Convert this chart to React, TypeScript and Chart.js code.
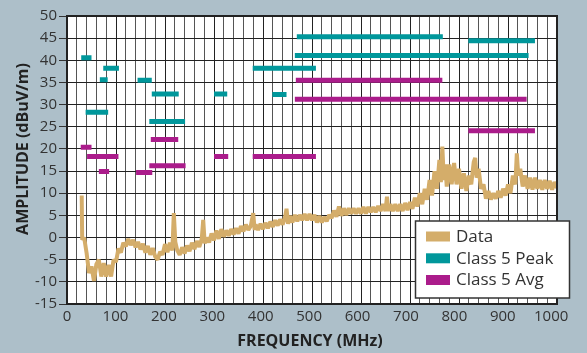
import React, { useEffect, useRef } from 'react';
import { Chart, registerables } from 'chart.js';

Chart.register(...registerables);

// ---------- data ----------
const FREQ_MHZ = [
  30, 31, 35, 40, 45, 50, 55, 60, 65, 70,
  75, 80, 85, 90, 95, 100, 105, 110, 115, 120,
  125, 130, 135, 140, 145, 150, 155, 160, 165, 170,
  175, 180, 185, 190, 195, 200, 205, 210, 215, 218,
  221, 225, 230, 235, 240, 245, 250, 255, 260, 265,
  270, 275, 278, 281, 285, 290, 295, 300, 305, 310,
  315, 320, 325, 330, 335, 340, 345, 350, 355, 360,
  365, 370, 375, 380, 383, 385, 390, 395, 400, 405,
  410, 415, 420, 425, 430, 435, 440, 445, 448, 451,
  455, 460, 465, 470, 475, 480, 485, 490, 495, 500,
  505, 510, 515, 520, 525, 530, 535, 540, 545, 550,
  555, 560, 565, 570, 575, 580, 585, 590, 595, 600,
  605, 610, 615, 620, 625, 630, 635, 640, 645, 650,
  653, 656, 660, 665, 670, 675, 680, 685, 690, 695,
  700, 705, 710, 715, 720, 725, 730, 735, 740, 745,
  750, 755, 760, 763, 766, 769, 772, 775, 780, 785,
  790, 795, 800, 805, 810, 815, 820, 825, 830, 833,
  836, 840, 845, 850, 855, 860, 865, 870, 875, 880,
  885, 890, 895, 900, 905, 910, 915, 918, 921, 925,
  930, 935, 940, 945, 950, 955, 960, 965, 970, 975,
  980, 985, 990, 995, 1000,
];

const AMPLITUDE = [
  9.5, -0.5, 0, -3.5, -8, -6.5, -9.8, -6, -5, -8.8,
  -5.8, -8.8, -6.2, -8.8, -5, -5.5, -2.5, -3.4, -1.2, -2,
  -0.3, -1.7, -0.5, -2.2, -1, -2.7, -1.4, -3.4, -1.9, -3.9,
  -2.4, -4.3, -5, -3.2, -3.9, -1.5, -3.3, -1.2, -2.9, 5.5,
  -1, -2.9, -3.9, -2.2, -3.6, -1.8, -3.1, -1.2, -2.6, -0.8,
  -2.1, -0.3, 4, -1.3, 0, -1.1, 0.9, -0.6, 1.6, -0.3,
  1.9, 0.2, 1.6, 0.4, 1.9, 0.7, 2.1, 0.9, 2.6, 1.4,
  2.9, 1.7, 2.6, 5.5, 1.7, 2.9, 1.7, 3.1, 1.9, 3.3,
  2.1, 3.6, 2.4, 3.9, 2.7, 4.1, 2.9, 4.6, 6.5, 3.1,
  4.9, 3.4, 5.1, 3.7, 5.1, 3.9, 5.3, 3.9, 5.3, 3.9,
  5.1, 3.4, 4.9, 3.4, 4.6, 3.7, 5.1, 4.4, 6.1, 4.7,
  7, 4.9, 6.6, 5.1, 6.6, 5.4, 6.6, 5.4, 6.6, 5.4,
  6.9, 5.4, 6.9, 5.7, 6.9, 5.7, 7.1, 6, 7.5, 6,
  9.2, 6, 7.5, 6, 7.5, 6, 7.5, 6, 7.8, 6.2,
  8, 6.5, 9, 7, 10, 7.5, 11, 8.5, 13, 9.5,
  15, 11, 17.5, 12.5, 20.5, 13, 16.5, 11.5, 16.5, 12,
  16.8, 12, 15.5, 11, 14.5, 10.5, 14, 12, 17, 18,
  13.5, 15.5, 11, 12, 8.8, 10.5, 8.6, 10, 8.8, 10.5,
  9, 11, 9.5, 12, 10, 14, 12, 19, 14, 15.5,
  11.5, 14, 11, 13.5, 10.8, 13.5, 11, 13, 10.8, 13,
  11, 12.8, 10.8, 12.5, 11.2,
];

const PEAK_START = [29, 74, 67, 144, 173, 300, 419, 38, 168, 379, 469, 819, 465];
const PEAK_END = [50, 106, 83, 173, 228, 327, 448, 84, 241, 508, 767, 955, 942];
const PEAK_LEVEL = [40.6, 38.2, 35.6, 35.5, 32.4, 32.4, 32.3, 28.3, 26.2, 38.2, 45.3, 44.4, 41.1];

const AVG_START = [28, 41, 65, 141, 168, 171, 300, 379, 467, 465, 819];
const AVG_END = [50, 105, 86, 174, 242, 227, 329, 508, 766, 938, 955];
const AVG_LEVEL = [20.4, 18.3, 14.9, 14.7, 16.2, 22.1, 18.3, 18.3, 35.5, 31.2, 24.1];

const X_TICK_LABELS = [0, 100, 200, 300, 400, 500, 600, 700, 800, 900, 1000];
const LEGEND_LABELS = ['Data', 'Class 5 Peak', 'Class 5 Avg'];
const X_TITLE = 'FREQUENCY (MHz)';
const Y_TITLE = 'AMPLITUDE (dBuV/m)';

// ---------- styles ----------
const COLOR_DATA = '#d4ad6a';
const COLOR_PEAK = '#00979b';
const COLOR_AVG = '#ab1c8b';
const BG = '#adbfc9';
const FONT = "'Open Sans', 'DejaVu Sans', sans-serif";

function segments(starts: number[], ends: number[], levels: number[]) {
  const pts: { x: number; y: number | null }[] = [];
  starts.forEach((s, i) => {
    pts.push({ x: s, y: levels[i] }, { x: ends[i], y: levels[i] }, { x: ends[i], y: null });
  });
  return pts;
}

const decorPlugin = {
  id: 'decor',
  beforeDraw(chart: any) {
    const { ctx, chartArea: a } = chart;
    ctx.save();
    ctx.fillStyle = '#ffffff';
    ctx.fillRect(a.left, a.top, a.right - a.left, a.bottom - a.top);
    ctx.restore();
  },
  afterDraw(chart: any) {
    const { ctx, chartArea: a } = chart;
    ctx.save();
    // frame
    ctx.strokeStyle = '#222';
    ctx.lineWidth = 2;
    ctx.strokeRect(a.left, a.top, a.right - a.left, a.bottom - a.top);

    // axis titles
    ctx.fillStyle = '#222';
    ctx.font = `bold 16px ${FONT}`;
    ctx.textAlign = 'center';
    ctx.textBaseline = 'middle';
    ctx.fillText(X_TITLE, 310, 341);
    ctx.save();
    ctx.translate(23, 149);
    ctx.rotate(-Math.PI / 2);
    ctx.fillText(Y_TITLE, 0, 0);
    ctx.restore();

    // legend
    const lx = 415.5, ly = 221, lw = 154, lh = 77;
    ctx.fillStyle = '#ffffff';
    ctx.fillRect(lx, ly, lw, lh);
    ctx.strokeStyle = '#333';
    ctx.lineWidth = 1.5;
    ctx.strokeRect(lx, ly, lw, lh);
    const colors = [COLOR_DATA, COLOR_PEAK, COLOR_AVG];
    const rows = [236.5, 258.3, 280];
    ctx.font = `17px ${FONT}`;
    ctx.textAlign = 'left';
    ctx.textBaseline = 'middle';
    LEGEND_LABELS.forEach((label, i) => {
      ctx.fillStyle = colors[i];
      ctx.fillRect(426, rows[i] - 5, 24, 10);
      ctx.fillStyle = '#333';
      ctx.fillText(label, 456, rows[i] + 0.5);
    });
    ctx.restore();
  },
};

export default function App() {
  const ref = useRef<HTMLCanvasElement>(null);

  useEffect(() => {
    if (!ref.current) return;
    const chart = new Chart(ref.current, {
      type: 'line',
      data: {
        datasets: [
          {
            label: LEGEND_LABELS[0],
            data: FREQ_MHZ.map((f, i) => ({ x: f, y: AMPLITUDE[i] })),
            borderColor: COLOR_DATA,
            backgroundColor: COLOR_DATA,
            borderWidth: 4,
            borderJoinStyle: 'bevel',
            pointRadius: 0,
            tension: 0,
            xAxisID: 'x',
          },
          {
            label: LEGEND_LABELS[1],
            data: segments(PEAK_START, PEAK_END, PEAK_LEVEL),
            borderColor: COLOR_PEAK,
            backgroundColor: COLOR_PEAK,
            borderWidth: 5,
            borderCapStyle: 'butt',
            pointRadius: 0,
            spanGaps: false,
            xAxisID: 'x',
          },
          {
            label: LEGEND_LABELS[2],
            data: segments(AVG_START, AVG_END, AVG_LEVEL),
            borderColor: COLOR_AVG,
            backgroundColor: COLOR_AVG,
            borderWidth: 5,
            borderCapStyle: 'butt',
            pointRadius: 0,
            spanGaps: false,
            xAxisID: 'x',
          },
        ],
      } as any,
      options: {
        responsive: false,
        animation: false,
        devicePixelRatio: 1,
        layout: { padding: { left: 0, right: 30, top: 16, bottom: 0 } },
        plugins: { legend: { display: false }, tooltip: { enabled: false } },
        scales: {
          x: {
            type: 'linear',
            position: 'bottom',
            weight: 0,
            min: 0,
            max: 1000,
            ticks: { display: false, stepSize: 20 },
            grid: {
              color: (c: any) => (c.tick && c.tick.value % 100 === 0 ? '#222' : '#555'),
              lineWidth: 1,
              drawTicks: false,
            },
            border: { display: false },
            afterFit: (s: any) => {
              s.height = 0;
            },
          },
          xLabels: {
            type: 'linear',
            position: 'bottom',
            weight: 1,
            min: 0,
            max: 1012,
            afterBuildTicks: (s: any) => {
              s.ticks = X_TICK_LABELS.map((v) => ({ value: v }));
            },
            ticks: {
              autoSkip: false,
              maxRotation: 0,
              padding: 4,
              color: '#333',
              font: { family: FONT, size: 15 },
              callback: (v: any) => String(v),
            },
            grid: { display: false, drawTicks: false },
            border: { display: false },
            afterFit: (s: any) => {
              s.height = 49;
            },
          },
          y: {
            type: 'linear',
            min: -15,
            max: 50,
            ticks: {
              stepSize: 5,
              padding: 2,
              color: '#333',
              font: { family: FONT, size: 15 },
            },
            grid: { color: '#222', lineWidth: 1, drawTicks: true, tickLength: 8, tickColor: '#333' },
            border: { display: false },
            afterFit: (s: any) => {
              s.width = 67;
            },
          },
        },
      } as any,
      plugins: [decorPlugin],
    });
    return () => chart.destroy();
  }, []);

  return (
    <div style={{ position: 'fixed', left: 0, top: 0, width: 587, height: 353, background: BG }}>
      <canvas ref={ref} width={587} height={353} style={{ display: 'block', width: 587, height: 353 }} />
    </div>
  );
}
